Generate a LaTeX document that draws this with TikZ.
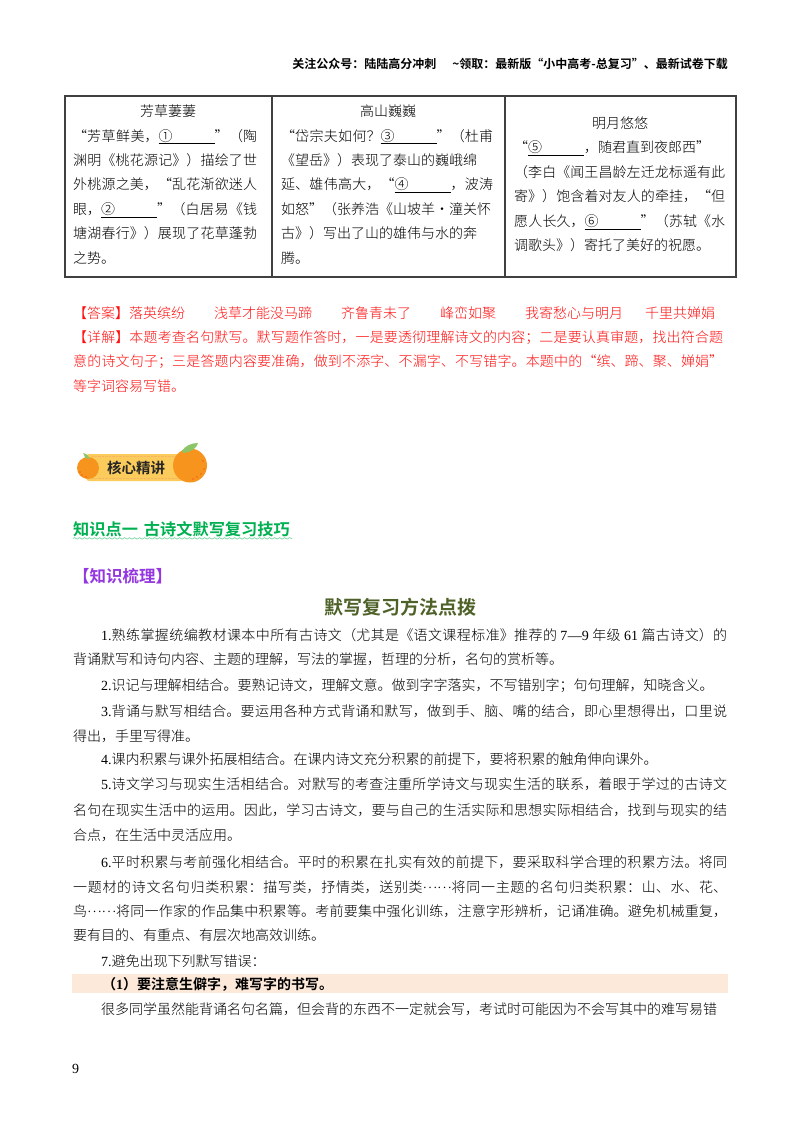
\documentclass[tikz,border=0pt]{standalone}
\usepackage{fontspec}
\usetikzlibrary{decorations.pathmorphing}
\setmainfont{Noto Sans CJK SC}[UprightFont=* Light,BoldFont=* Bold]
\newfontfamily\latf{Liberation Serif}
\newcommand{\latn}[1]{{\latf #1}}
\newcommand{\blank}[1]{\underline{#1\hspace*{42pt}}}
\newcommand{\nl}{\linebreak}
\newcommand{\midots}{\raisebox{4pt}{……}}
\XeTeXlinebreaklocale "zh"
\XeTeXlinebreakskip=0pt plus 2pt minus 0.5pt
\definecolor{ansred}{HTML}{FF1010}
\definecolor{kpgreen}{HTML}{00B050}
\definecolor{sortpurple}{HTML}{9437E0}
\definecolor{titleolive}{HTML}{4E6128}
\definecolor{bandpeach}{HTML}{FDE9D9}
\definecolor{rindO}{HTML}{F7941D}
\definecolor{bannerY}{HTML}{FBCB5C}
\definecolor{leafG}{HTML}{8CC468}
\tikzset{
  paraT/.style={anchor=north west,inner sep=0pt,text width=#1,align=justify,
    font=\fontsize{14}{24.4}\selectfont},
  paraT/.default=654pt,
  headT/.style={inner sep=0pt,font=\fontsize{14}{17}\selectfont},
  orangeN/.style={circle,fill=rindO,inner sep=0pt},
  speck/.style={fill=red!70!rindO}
}
\begin{document}
\begin{tikzpicture}[x=1pt,y=-1pt]
  \useasboundingbox (0,0) rectangle (800,1132);

  % page header
  \node[anchor=east,inner sep=0pt,font=\fontsize{12}{14}\selectfont\bfseries] (head) at (728,64)
    {关注公众号：陆陆高分冲刺\hspace{16pt}\textasciitilde 领取：最新版“小中高考-总复习”、最新试卷下载};

  % table
  \draw[line width=1.2pt,black!75] (65,96) rectangle (736,277);
  \draw[line width=1.2pt,black!75] (272,96) -- (272,277);
  \draw[line width=1.2pt,black!75] (505,96) -- (505,277);

  \node[headT] (t1) at (168,111) {芳草萋萋};
  \node[headT] (t2) at (388,111) {高山巍巍};
  \node[headT] (t3) at (620,123) {明月悠悠};

  \node[paraT=184pt] (c1) at (73,129)
    {“芳草鲜美，\blank{①}”（陶\nl
     渊明《桃花源记》）描绘了世\nl
     外桃源之美，“乱花渐欲迷人\nl
     眼，\blank{②}”（白居易《钱\nl
     塘湖春行》）展现了花草蓬勃\nl
     之势。};
  \node[paraT=212pt] (c2) at (281,129)
    {“岱宗夫如何？\blank{③}”（杜甫\nl
     《望岳》）表现了泰山的巍峨绵\\
     延、雄伟高大，“\blank{④}，波涛\nl
     如怒”（张养浩《山坡羊·潼关怀\\
     古》）写出了山的雄伟与水的奔\\
     腾。};
  \node[paraT=211pt] (c3) at (514,141)
    {“\blank{⑤}，随君直到夜郎西”\\
     （李白《闻王昌龄左迁龙标遥有此\nl
     寄》）饱含着对友人的牵挂，“但\nl
     愿人长久，\blank{⑥}”（苏轼《水\nl
     调歌头》）寄托了美好的祝愿。};

  % answer block
  \node[paraT=650pt,text=ansred] (ans) at (73,306)
    {【答案】落英缤纷\hspace{29pt}浅草才能没马蹄\hspace{29pt}齐鲁青未了\hspace{29pt}峰峦如聚\hspace{29pt}我寄愁心与明月\hspace{22pt}千里共婵娟\\
     【详解】本题考查名句默写。默写题作答时，一是要透彻理解诗文的内容；二是要认真审题，找出符合题\nl
     意的诗文句子；三是答题内容要准确，做到不添字、不漏字、不写错字。本题中的“缤、蹄、聚、婵娟”\nl
     等字词容易写错。};

  % banner
  \draw[fill=bannerY,draw=none,rounded corners=3pt] (86,454) rectangle (184,481);
  \draw[rindO!70!white,densely dotted,line width=0.4pt] (92,456.5) -- (178,456.5);
  \draw[rindO!70!white,densely dotted,line width=0.4pt] (92,478.5) -- (178,478.5);
  \node[orangeN,minimum size=22pt] (oS) at (88,468) {};
  \node[orangeN,minimum size=34pt] (oB) at (190,465.5) {};
  \path[fill=leafG] (85,458) .. controls (85,456) and (84,455) .. (83,453) .. controls (87,454) and (89,456) .. (90,459) -- cycle;
  \path[fill=leafG] (182,451) .. controls (185,446) and (191,443) .. (198,443) .. controls (197,448) and (191,452) .. (184,453) -- cycle;
  \foreach \sx/\sy in {197/477,201/474,204/469,193/479,203/461,80/472,82/475,86/477}
    \fill[speck] (\sx,\sy) circle (0.6pt);
  \node[inner sep=0pt,text=black!85,font=\fontsize{14.5}{16}\selectfont\bfseries] (hx) at (136,468) {核心精讲};

  % knowledge point
  \node[anchor=west,inner sep=0pt,text=kpgreen,font=\fontsize{16.2}{19}\selectfont\bfseries] (kp) at (73,529)
    {知识点一\hspace{6pt}古诗文默写复习技巧};
  \draw[kpgreen!70,line width=0.5pt,decorate,decoration={snake,amplitude=0.8pt,segment length=5pt}]
    ([yshift=-1.5pt]kp.south west) -- ([yshift=-1.5pt,xshift=2pt]kp.south east);

  \node[anchor=west,inner sep=0pt,text=sortpurple,font=\fontsize{16.5}{19}\selectfont\bfseries] (sort) at (73,576) {【知识梳理】};
  \node[inner sep=0pt,text=titleolive,font=\fontsize{19}{22}\selectfont\bfseries] (title) at (400,607) {默写复习方法点拨};

  % method list
  \node[paraT] (p1) at (73,628)
    {\hspace*{28pt}\latn{1.}熟练掌握统编教材课本中所有古诗文（尤其是《语文课程标准》推荐的 \latn{7—9} 年级 \latn{61} 篇古诗文）的\nl
     背诵默写和诗句内容、主题的理解，写法的掌握，哲理的分析，名句的赏析等。};
  \node[paraT] (p2) at (73,679)
    {\hspace*{28pt}\latn{2.}识记与理解相结合。要熟记诗文，理解文意。做到字字落实，不写错别字；句句理解，知晓含义。};
  \node[paraT] (p3) at (73,705)
    {\hspace*{28pt}\latn{3.}背诵与默写相结合。要运用各种方式背诵和默写，做到手、脑、嘴的结合，即心里想得出，口里说\nl
     得出，手里写得准。};
  \node[paraT] (p4) at (73,753)
    {\hspace*{28pt}\latn{4.}课内积累与课外拓展相结合。在课内诗文充分积累的前提下，要将积累的触角伸向课外。};
  \node[paraT,font=\fontsize{14}{25.5}\selectfont] (p5) at (73,778)
    {\hspace*{28pt}\latn{5.}诗文学习与现实生活相结合。对默写的考查注重所学诗文与现实生活的联系，着眼于学过的古诗文\nl
     名句在现实生活中的运用。因此，学习古诗文，要与自己的生活实际和思想实际相结合，找到与现实的结\nl
     合点，在生活中灵活应用。};
  \node[paraT,font=\fontsize{14}{24.2}\selectfont] (p6) at (73,856)
    {\hspace*{28pt}\latn{6.}平时积累与考前强化相结合。平时的积累在扎实有效的前提下，要采取科学合理的积累方法。将同\nl
     一题材的诗文名句归类积累：描写类，抒情类，送别类\midots 将同一主题的名句归类积累：山、水、花、\nl
     鸟\midots 将同一作家的作品集中积累等。考前要集中强化训练，注意字形辨析，记诵准确。避免机械重复，\nl
     要有目的、有重点、有层次地高效训练。};
  \node[paraT] (p7) at (73,955)
    {\hspace*{28pt}\latn{7.}避免出现下列默写错误：};

  \fill[bandpeach] (72,974) rectangle (728,993);
  \node[anchor=west,inner sep=0pt,font=\fontsize{14}{17}\selectfont\bfseries] (p8) at (102,984)
    {（\latn{1}）要注意生僻字，难写字的书写。};
  \node[paraT] (p9) at (73,1002)
    {\hspace*{28pt}很多同学虽然能背诵名句名篇，但会背的东西不一定就会写，考试时可能因为不会写其中的难写易错};

  \node[anchor=west,inner sep=0pt,font=\fontsize{14}{17}\selectfont\latf] (pg) at (72,1069) {9};
\end{tikzpicture}
\end{document}
